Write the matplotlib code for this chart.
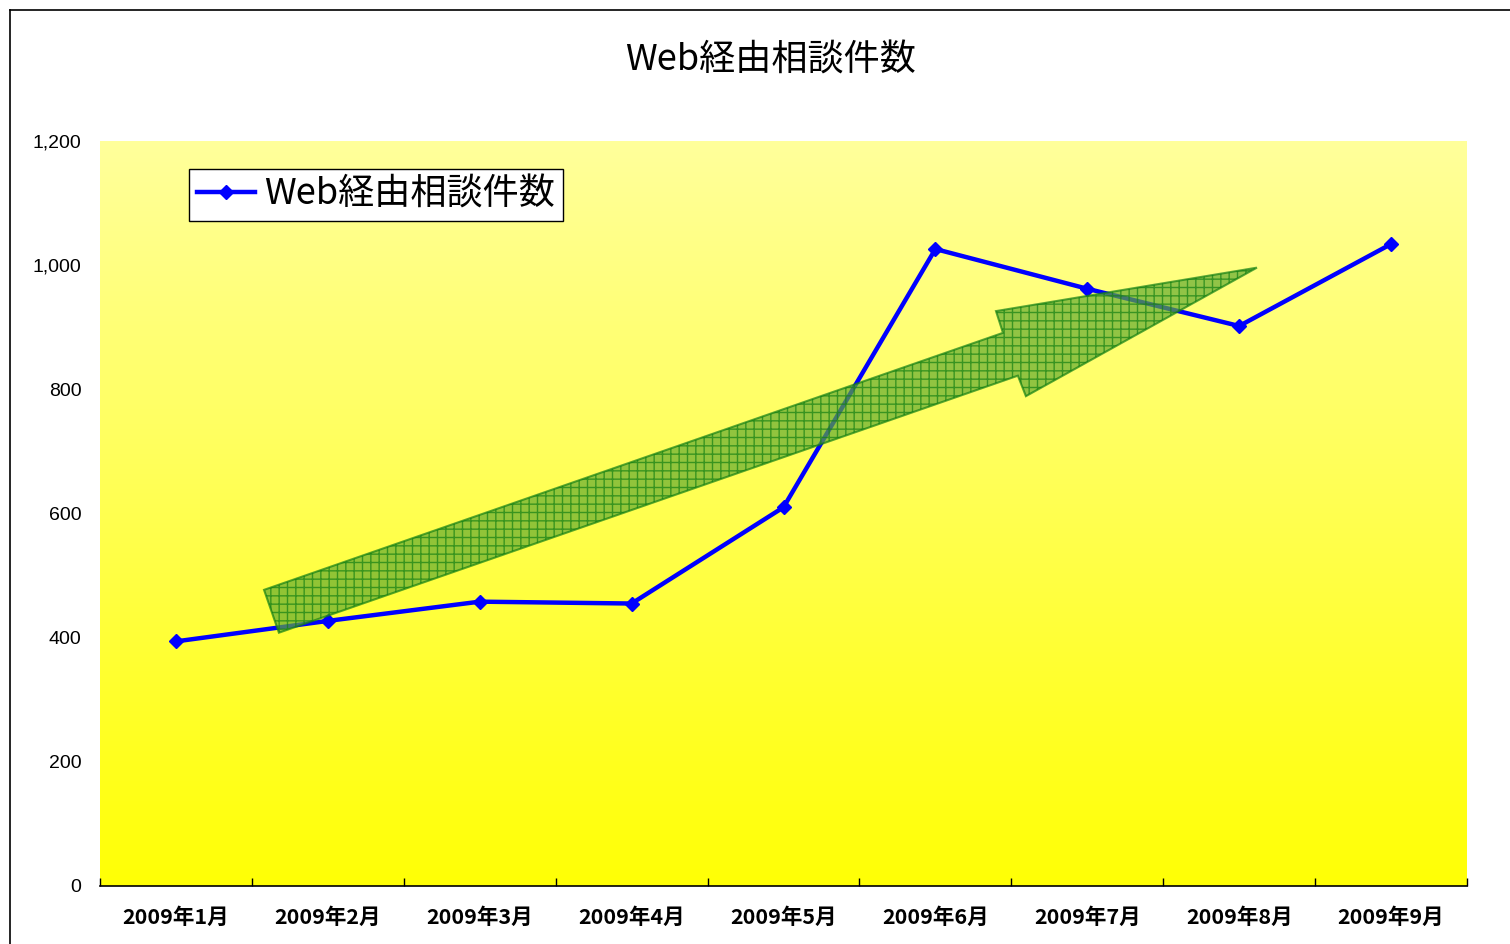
import numpy as np
import matplotlib
matplotlib.use("Agg")
import matplotlib.pyplot as plt
from matplotlib.patches import Polygon
from matplotlib.lines import Line2D

plt.rcParams['font.family'] = ['Noto Sans CJK JP', 'DejaVu Sans']

# ---- data ----
categories = ["2009年1月", "2009年2月", "2009年3月", "2009年4月", "2009年5月",
              "2009年6月", "2009年7月", "2009年8月", "2009年9月"]
values = [394, 427, 458, 455, 610, 1026, 962, 902, 1034]
series_name = "Web経由相談件数"
title = "Web経由相談件数"
yticks = [0, 200, 400, 600, 800, 1000, 1200]
ytick_labels = ["0", "200", "400", "600", "800", "1,000", "1,200"]

# decorative trend arrow (data coordinates: category index, value)
arrow_x = [0.58, 5.445, 5.399, 7.117, 5.596, 5.543, 0.678]
arrow_y = [477, 891, 926, 996, 789, 822, 408]

W, H = 1510, 944
fig = plt.figure(figsize=(W / 100, H / 100), dpi=100)
fig.patch.set_facecolor("white")

ax = fig.add_axes([100 / W, (H - 886) / H, 1367 / W, 745 / H])
ax.set_xlim(-0.5, len(categories) - 0.5)
ax.set_ylim(0, 1200)

# gradient background
grad = np.linspace(0, 1, 256).reshape(-1, 1)
top = np.array([255, 255, 155]) / 255
bot = np.array([255, 255, 5]) / 255
img = top[None, None, :] * (1 - grad[:, :, None]) + bot[None, None, :] * grad[:, :, None]
ax.imshow(img, extent=[0, 1, 0, 1], transform=ax.transAxes, aspect="auto", zorder=0)

x = np.arange(len(categories))
ax.plot(x, values, color="#0000FF", lw=3.2, marker="D", markersize=7,
        label=series_name, zorder=3)

# arrow shape
arrow = Polygon(list(zip(arrow_x, arrow_y)), closed=True, facecolor="#62ac30",
                edgecolor="#148014", lw=1.5, alpha=0.7, hatch="++", zorder=4)
ax.add_patch(arrow)

# axes styling
for s in ["left", "right", "top"]:
    ax.spines[s].set_visible(False)
ax.spines["bottom"].set_color("black")
ax.spines["bottom"].set_linewidth(1.2)

ax.set_yticks(yticks)
ax.set_yticklabels(ytick_labels, fontsize=14, family=["Liberation Sans", "DejaVu Sans"])
ax.tick_params(axis="y", length=0, pad=13.5)

ax.set_xticks(x)
ax.set_xticklabels(categories, fontsize=15.5, fontweight="bold")
ax.tick_params(axis="x", length=0, pad=15)
ax.set_xticks(np.arange(-0.5, len(categories)), minor=True)
ax.tick_params(axis="x", which="minor", length=6, direction="in", width=1.0, color="black")

leg = ax.legend(loc="upper left", bbox_to_anchor=((189 - 100) / 1367, (886 - 169) / 745),
                borderaxespad=0, fontsize=26, frameon=True, fancybox=False,
                edgecolor="black", framealpha=1, handlelength=1.6, handletextpad=0.25,
                borderpad=0.22)
leg.get_frame().set_linewidth(1.0)

fig.text(771 / W, 1 - 61 / H, title, fontsize=26, ha="center", va="center")

# outer chart border
fig.add_artist(Line2D([10 / W, 10 / W], [0, 1 - 10 / H], color="black", lw=1.2,
                      transform=fig.transFigure))
fig.add_artist(Line2D([10 / W, 1], [1 - 10 / H, 1 - 10 / H], color="black", lw=1.2,
                      transform=fig.transFigure))

fig.savefig("out.png", dpi=100)
